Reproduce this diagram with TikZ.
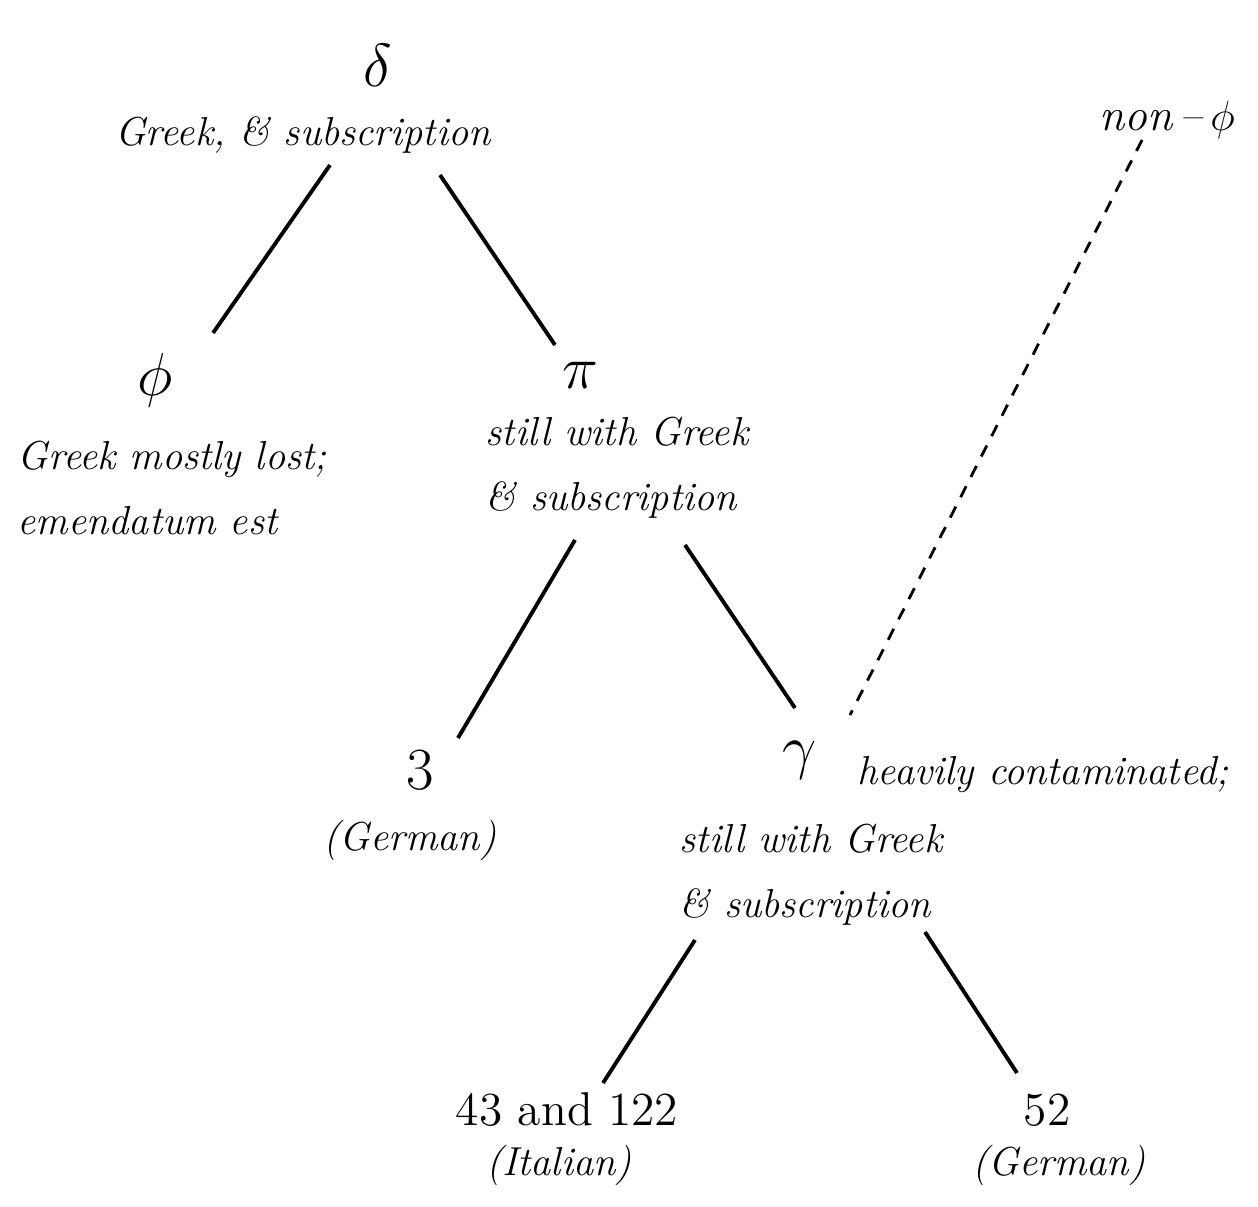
\documentclass[tikz,border=0pt]{standalone}
\usepackage{amsmath}
\usepackage{amssymb}
\usepackage{tikz}
\usetikzlibrary{calc}

\begin{document}
\begin{tikzpicture}[x=1cm,y=1cm,
    every node/.style={font=\fontsize{11.5}{18.5}\selectfont\itshape, inner sep=2pt},
    sigil/.style={font=\fontsize{17}{20}\selectfont},
    shelf/.style={font=\fontsize{13.5}{16}\selectfont},
    note/.style={align=left, anchor=west},
    stem/.style={line width=1.1pt},
    contam/.style={line width=0.8pt, dash pattern=on 3.5pt off 3pt}]
    \useasboundingbox (0,0) rectangle (12.58,-12.07);

    \node[sigil] (delta) at (3.78,-0.65) {$\delta$};
    \node (dtext) at (3.03,-1.35) {Greek, \& subscription};
    \node[sigil] (phi) at (1.55,-3.80) {$\phi$};
    \node[note] (phitext) at (0.10,-4.88) {Greek mostly lost;\\emendatum est};
    \node[sigil] (pi) at (5.80,-3.75) {$\pi$};
    \node[note] (pitext) at (4.78,-4.68) {still with Greek\\\& subscription};
    \node[sigil] (three) at (4.20,-7.70) {3};
    \node (german1) at (4.10,-8.40) {(German)};
    \node[sigil] (gamma) at (8.00,-7.60) {$\gamma$};
    \node[note] (heavy) at (8.50,-7.75) {heavily contaminated;};
    \node[note] (gtext) at (6.72,-8.75) {still with Greek\\\& subscription};
    \node[shelf] (n43) at (5.67,-11.10) {43 and 122};
    \node (italian) at (5.59,-11.65) {(Italian)};
    \node[shelf] (n52) at (10.47,-11.10) {52};
    \node (german2) at (10.59,-11.65) {(German)};
    \node[font=\fontsize{13}{16}\selectfont\itshape] (nonphi) at (11.67,-1.20) {non\,--\,$\phi$};

    \draw[stem] ($(dtext)+(0.27,-0.30)$) -- ($(phi)+(0.58,0.47)$);
    \draw[stem] ($(dtext)+(1.37,-0.40)$) -- ($(pi)+(-0.25,0.30)$);
    \draw[stem] ($(pi)+(-0.05,-1.65)$) -- ($(three)+(0.38,0.32)$);
    \draw[stem] ($(pi)+(1.05,-1.70)$) -- ($(gamma)+(-0.05,0.52)$);
    \draw[stem] ($(gamma)+(-1.05,-1.80)$) -- ($(n43)+(0.36,0.27)$);
    \draw[stem] ($(gamma)+(1.25,-1.72)$) -- ($(n52)+(-0.30,0.37)$);
    \draw[contam] ($(nonphi)+(-0.25,-0.20)$) -- ($(gamma)+(0.50,0.45)$);
\end{tikzpicture}
\end{document}
